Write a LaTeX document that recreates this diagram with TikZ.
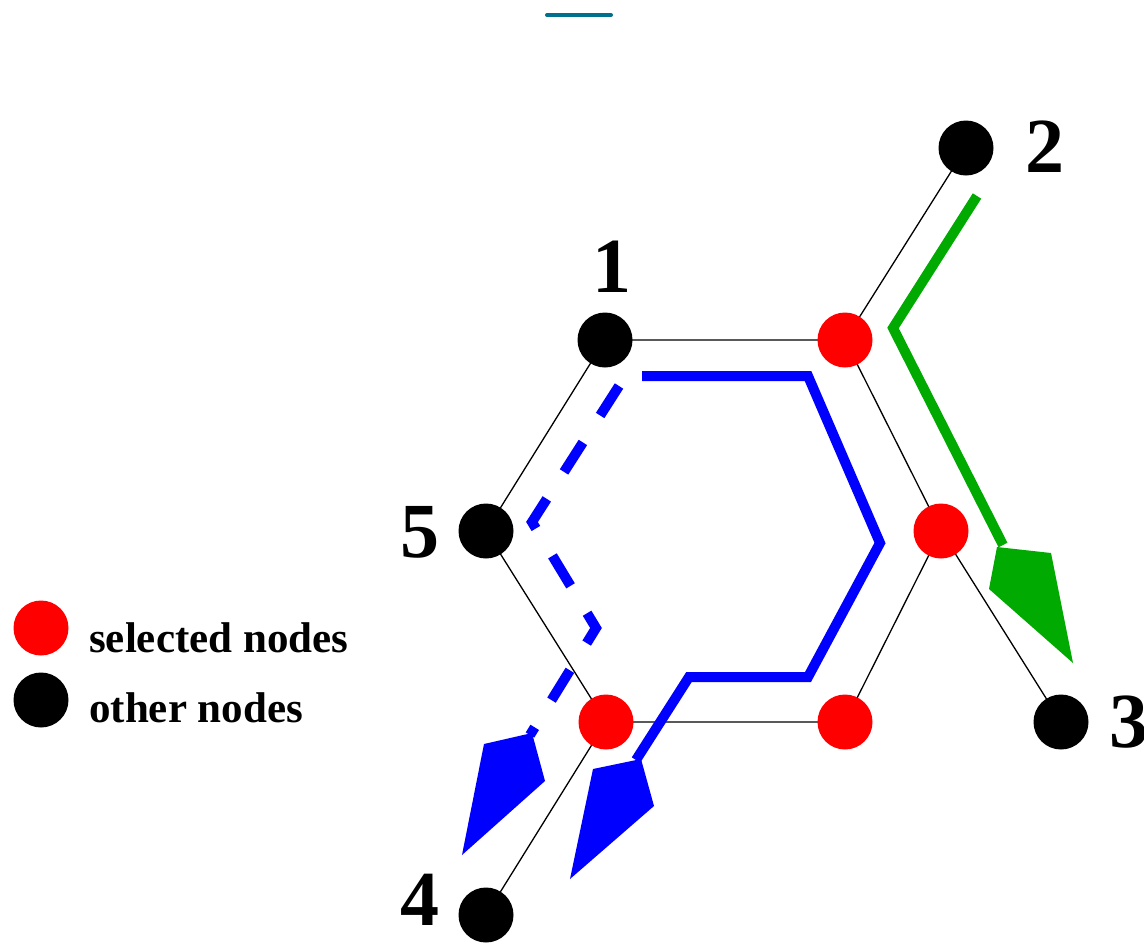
\documentclass[tikz,border=0pt]{standalone}
\usepackage{fontspec}
\setmainfont{Liberation Serif}
\definecolor{selred}{RGB}{255,0,0}
\definecolor{pathblue}{RGB}{0,0,255}
\definecolor{pathgreen}{RGB}{0,170,0}
\definecolor{topteal}{RGB}{0,112,140}
\tikzset{
  selnode/.style={circle,fill=selred,draw=none,minimum size=55pt,inner sep=0pt},
  othnode/.style={circle,fill=black,draw=none,minimum size=55pt,inner sep=0pt},
  edge/.style={draw=black,line width=1.3pt},
  numlabel/.style={anchor=base,inner sep=0pt,font=\fontsize{78}{78}\selectfont\bfseries},
  legtext/.style={anchor=base west,inner sep=0pt,font=\fontsize{43}{43}\selectfont\bfseries},
  bluepath/.style={draw=pathblue,line width=10pt,line join=miter},
  greenpath/.style={draw=pathgreen,line width=10pt,line join=miter},
  bluedash/.style={draw=pathblue,line width=10pt,dash pattern=on 35pt off 32pt,line join=miter},
}
\begin{document}
\begin{tikzpicture}[x=1pt,y=-1pt]
\useasboundingbox (0,0) rectangle (1144,943);
% top mark
\coordinate (t1) at (547,15);
\coordinate (t2) at (611,15);
\draw[topteal,line width=4pt,line cap=round] (t1) -- (t2);
% node positions
\coordinate (p1) at (605,340);
\coordinate (pA) at (845,340);
\coordinate (p2) at (966,148);
\coordinate (pB) at (941,531);
\coordinate (p3) at (1061,722);
\coordinate (pC) at (845,722);
\coordinate (pD) at (606,722);
\coordinate (p5) at (486,531);
\coordinate (p4) at (486,915);
% edges
\draw[edge] (p1) -- (pA) -- (pB) -- (pC) -- (pD) -- (p5) -- cycle;
\draw[edge] (pA) -- (p2);
\draw[edge] (pB) -- (p3);
\draw[edge] (pD) -- (p4);
% nodes
\node[othnode] (n1) at (p1) {};
\node[selnode] (nA) at (pA) {};
\node[othnode] (n2) at (p2) {};
\node[selnode] (nB) at (pB) {};
\node[othnode] (n3) at (p3) {};
\node[selnode] (nC) at (pC) {};
\node[selnode] (nD) at (pD) {};
\node[othnode] (n5) at (p5) {};
\node[othnode] (n4) at (p4) {};
% labels
\node[numlabel] (l1) at (612,292) {1};
\node[numlabel] (l2) at (1045,172) {2};
\node[numlabel] (l3) at (1129,747) {3};
\node[numlabel] (l5) at (420,557) {5};
\node[numlabel] (l4) at (420,925) {4};
% blue solid path
\coordinate (b0) at (642,376);
\coordinate (b1) at (808,376);
\coordinate (b2) at (880,543);
\coordinate (b3) at (808,677);
\coordinate (b4) at (689,677);
\coordinate (b5) at (636,760);
\draw[bluepath] (b0) -- (b1) -- (b2) -- (b3) -- (b4) -- (b5);
\fill[pathblue] (593,769) -- (641,759) -- (654,806) -- (570,879) -- cycle;
% blue dashed path
\coordinate (d0) at (619,386);
\coordinate (d1) at (532,522);
\coordinate (d2) at (596,628);
\coordinate (d3) at (530,735);
\draw[bluedash] (d0) -- (d1) -- (d2) -- (d3);
\fill[pathblue] (484,744) -- (532,733) -- (545,781) -- (462,855) -- cycle;
% green path
\coordinate (g0) at (977,196);
\coordinate (g1) at (893,328);
\coordinate (g2) at (1003,545);
\draw[greenpath] (g0) -- (g1) -- (g2);
\fill[pathgreen] (997,547) -- (1051,553) -- (1073,663) -- (989,589) -- cycle;
% legend
\node[selnode] (ls) at (41,628) {};
\node[othnode] (lo) at (41,700) {};
\node[legtext] (lst) at (89,652) {selected nodes};
\node[legtext] (lot) at (89,722) {other nodes};
\end{tikzpicture}
\end{document}
